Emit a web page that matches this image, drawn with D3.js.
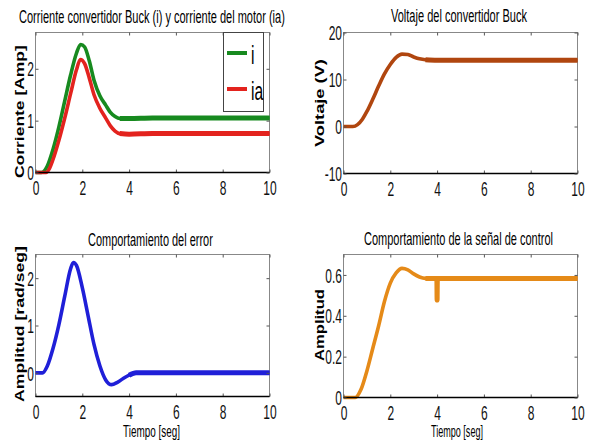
<!DOCTYPE html>
<html>
<head>
<meta charset="utf-8">
<script src="https://cdn.jsdelivr.net/npm/d3@7"></script>
<style>
  body { margin: 0; background: #fff; }
</style>
</head>
<body>
<svg id="chart" width="590" height="448"></svg>
<script>
// --- data ---
// panel 1: corriente convertidor (i) y corriente motor (ia)
let currentI = [[0,0],[0.25,0],[0.5,0.12],[0.75,0.45],[1.0,0.88],[1.25,1.38],[1.5,1.88],[1.75,2.3],[1.93,2.47],[2.1,2.42],[2.3,2.15],[2.5,1.78],[2.75,1.48],[3.0,1.3],[3.2,1.16],[3.4,1.08],[3.6,1.04],[4.0,1.04],[5,1.05],[10,1.05]];
let currentIa = [[0,0],[0.45,0],[0.6,0.08],[0.8,0.32],[1.0,0.62],[1.25,1.05],[1.5,1.52],[1.75,1.98],[1.92,2.18],[2.1,2.1],[2.3,1.82],[2.5,1.5],[2.75,1.24],[3.0,1.05],[3.2,0.9],[3.4,0.8],[3.6,0.75],[4.0,0.74],[5,0.75],[10,0.75]];
// panel 2: voltaje
let voltage = [[0,0],[0.4,0],[0.6,0.4],[0.8,1.5],[1.0,3.2],[1.25,5.8],[1.5,8.6],[1.75,11.2],[2.0,13.2],[2.25,14.7],[2.5,15.4],[2.75,15.3],[3.0,14.8],[3.25,14.4],[3.5,14.2],[4,14.1],[10,14.1]];
// panel 3: error
let errorSig = [[0,0],[0.3,0],[0.5,0.14],[0.75,0.52],[1.0,1.02],[1.25,1.62],[1.5,2.2],[1.62,2.33],[1.75,2.27],[2.0,1.8],[2.25,1.2],[2.5,0.6],[2.75,0.15],[3.0,-0.15],[3.25,-0.25],[3.5,-0.2],[3.75,-0.12],[4.0,-0.05],[4.3,0],[10,0]];
// panel 4: control
let control = [[0,0],[0.5,0],[0.75,0.04],[1.0,0.13],[1.25,0.24],[1.5,0.35],[1.75,0.47],[2.0,0.56],[2.25,0.61],[2.5,0.632],[2.75,0.625],[3.0,0.605],[3.25,0.59],[3.5,0.583],[3.99,0.582],[4.0,0.477],[4.01,0.582],[10,0.582]];

let xTicks = [0,2,4,6,8,10];
let titles = ["Corriente convertidor Buck (i) y corriente del motor (ia)", "Voltaje del convertidor Buck", "Comportamiento del error", "Comportamiento de la señal de control"];
let yLabels = ["Corriente [Amp]", "Voltaje (V)", "Amplitud [rad/seg]", "Amplitud"];
let xLabel = "Tiempo [seg]";
let legendNames = ["i", "ia"];

let svg = d3.select("#chart");
let sx = 0.6; // horizontal squash of the tick font
let font = "Liberation Sans, Arial, sans-serif";

// squeeze a text into [a, b] along its own direction
function fit(t, a, b, pre) {
	let w = t.node().getComputedTextLength();
	t.attr("transform", `${pre} scale(${(b - a) / w},1)`);
	return t;
}

function panel(o) {
	let x = d3.scaleLinear().domain([0,10]).range([o.x0, o.x1]);
	let y = d3.scaleLinear().domain(o.ydom).range([o.y1, o.y0]);
	let g = svg.append("g");

	// box
	g.append("rect")
		.attr("x", o.x0).attr("y", o.y0)
		.attr("width", o.x1 - o.x0).attr("height", o.y1 - o.y0)
		.attr("fill", "none").attr("stroke", "#888").attr("stroke-width", 1);

	// lines
	let line = d3.line().x(d => x(d[0])).y(d => y(d[1])).curve(d3.curveMonotoneX);
	o.series.forEach(s => {
		g.append("path").datum(s.data)
			.attr("d", line).attr("fill", "none")
			.attr("stroke", s.color).attr("stroke-width", 3.6)
			.attr("stroke-linejoin", "round");
		// steady state looks thicker (noise)
		g.append("path").datum(s.data.filter(d => d[0] >= s.steady))
			.attr("d", line).attr("fill", "none")
			.attr("stroke", s.color).attr("stroke-width", 5);
	});

	// axes, ticks inside like matlab
	let fmt = d => String(d);
	let bottom = g.append("g").attr("transform", `translate(0,${o.y1})`)
		.call(d3.axisBottom(x).tickValues(xTicks).tickSizeInner(-3).tickSizeOuter(0).tickFormat(fmt));
	let top = g.append("g").attr("transform", `translate(0,${o.y0})`)
		.call(d3.axisTop(x).tickValues(xTicks).tickSizeInner(-3).tickSizeOuter(0).tickFormat(""));
	let left = g.append("g").attr("transform", `translate(${o.x0},0)`)
		.call(d3.axisLeft(y).tickValues(o.yticks).tickSizeInner(-3).tickSizeOuter(0).tickFormat(fmt));
	let right = g.append("g").attr("transform", `translate(${o.x1},0)`)
		.call(d3.axisRight(y).tickValues(o.yticks).tickSizeInner(-3).tickSizeOuter(0).tickFormat(""));
	[bottom, top, left, right].forEach(a => {
		a.select(".domain").remove();
		a.selectAll("line").attr("stroke", "#555");
	});
	bottom.append("line").attr("x1", o.x0).attr("x2", o.x1).attr("stroke", "#000").attr("stroke-width", 1.3);

	bottom.selectAll("text")
		.attr("font-family", font)
		.attr("font-size", 20).attr("fill", "#111")
		.attr("y", 23).attr("dy", null)
		.attr("transform", `scale(${sx},1)`);
	left.selectAll("text")
		.attr("font-family", font)
		.attr("font-size", 20).attr("fill", "#111")
		.attr("text-anchor", "end")
		.attr("x", -1.5 / sx).attr("dy", "0.36em")
		.attr("transform", `scale(${sx},1)`);

	// title
	let tt = g.append("text")
		.attr("font-family", font).attr("font-size", 18.5)
		.text(o.title[0]);
	fit(tt, o.title[1], o.title[2], `translate(${o.title[1]},${o.title[3]})`);

	// y label, bold, rotated
	let yl = g.append("text")
		.attr("font-family", font).attr("font-size", 13)
		.attr("font-weight", "bold")
		.text(o.ylab[0]);
	fit(yl, o.ylab[2], o.ylab[3], `translate(${o.ylab[1]},${o.ylab[3]}) rotate(-90)`);

	if (o.xlab) {
		let xl = g.append("text")
			.attr("font-family", font).attr("font-size", 17)
			.text(xLabel);
		fit(xl, o.xlab[0], o.xlab[1], `translate(${o.xlab[0]},${o.xlab[2]})`);
	}
	return {x: x, y: y, g: g};
}

let p1 = panel({
	x0: 35.5, x1: 269.5, y0: 32.5, y1: 172.5, ydom: [0, 2.7], yticks: [0,1,2],
	series: [{data: currentI, color: "#178a1f", steady: 3.6}, {data: currentIa, color: "#e3231e", steady: 3.6}],
	title: [titles[0], 19, 285, 23], ylab: [yLabels[0], 24, 45, 178]
});
panel({
	x0: 343.5, x1: 577.5, y0: 32.5, y1: 173.5, ydom: [-10, 20], yticks: [-10,0,10,20],
	series: [{data: voltage, color: "#b0460f", steady: 3.5}],
	title: [titles[1], 391, 527, 22], ylab: [yLabels[1], 324, 59, 147]
});
panel({
	x0: 35.5, x1: 269.5, y0: 254.5, y1: 396.5, ydom: [-0.5, 2.5], yticks: [0,1,2],
	series: [{data: errorSig, color: "#1f1fd8", steady: 4.0}],
	title: [titles[2], 88, 213, 246], ylab: [yLabels[2], 24, 246, 402], xlab: [123, 180, 437]
});
panel({
	x0: 343.5, x1: 577.5, y0: 254.5, y1: 397.5, ydom: [0, 0.7], yticks: [0,0.2,0.4,0.6],
	series: [{data: control, color: "#e58a18", steady: 3.5}],
	title: [titles[3], 364, 553, 245], ylab: [yLabels[3], 324, 289, 361], xlab: [431, 483, 437]
});

// legend for panel 1
let lg = p1.g.append("g");
lg.append("rect").attr("x", 223.5).attr("y", 32.5).attr("width", 40).attr("height", 79)
	.attr("fill", "#fff").attr("stroke", "#444").attr("stroke-width", 1);
let legColors = ["#178a1f", "#e3231e"];
legendNames.forEach((n, i) => {
	let yy = 53 + i * 36;
	lg.append("line").attr("x1", 227).attr("x2", 247).attr("y1", yy).attr("y2", yy)
		.attr("stroke", legColors[i]).attr("stroke-width", 4);
	lg.append("text").attr("x", 251).attr("y", yy + 11)
		.attr("font-family", font).attr("font-size", 26)
		.attr("transform", `translate(${251 - 251 * 0.6},0) scale(0.6,1)`)
		.text(n);
});
</script>
</body>
</html>
